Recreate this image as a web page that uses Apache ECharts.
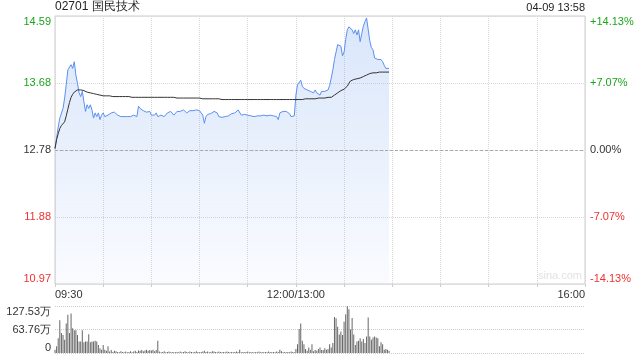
<!DOCTYPE html>
<html><head><meta charset="utf-8">
<script src="https://cdn.jsdelivr.net/npm/echarts@6/dist/echarts.min.js"></script>
<style>html,body{margin:0;padding:0;background:#fff}#c{width:640px;height:360px}</style>
</head><body><div id="c"></div>
<script>
const title = '02701 国民技术';
const stamp = '04-09 13:58';
const prevClose = 12.78;
const priceMin = 10.974, priceMax = 14.586, priceStep = 0.903;
const priceTicks = ['10.97','11.88','12.78','13.68','14.59'];
const pctTicks = ['-14.13%','-7.07%','0.00%','+7.07%','+14.13%'];
const tickColors = ['#f23030','#f23030','#333333','#1ca41c','#1ca41c'];
const timeTickPos = [0,150,330];
const timeTickText = ['09:30','12:00/13:00','16:00'];
const volMax = 127.53;
const volTicks = ['0','63.76万','127.53万'];

const price = [
12.80,12.94,13.09,13.21,13.23,13.34,13.48,13.66,13.86,13.84,
13.93,13.88,13.97,13.79,13.68,13.55,13.50,13.57,13.43,13.30,
13.39,13.34,13.39,13.32,13.21,13.28,13.23,13.28,13.19,13.25,
13.28,13.23,13.25,13.25,13.27,13.28,13.29,13.29,13.27,13.25,
13.24,13.23,13.23,13.23,13.23,13.23,13.23,13.23,13.24,13.25,
13.24,13.23,13.37,13.34,13.32,13.31,13.30,13.29,13.28,13.30,
13.25,13.23,13.25,13.28,13.23,13.24,13.25,13.24,13.23,13.25,
13.28,13.29,13.30,13.28,13.25,13.27,13.30,13.30,13.30,13.31,
13.32,13.30,13.28,13.30,13.31,13.31,13.31,13.32,13.32,13.31,
13.31,13.30,13.25,13.14,13.23,13.26,13.28,13.27,13.27,13.30,
13.30,13.28,13.23,13.21,13.22,13.23,13.23,13.22,13.24,13.26,
13.27,13.27,13.28,13.30,13.32,13.30,13.25,13.27,13.26,13.25,
13.25,13.24,13.24,13.23,13.23,13.24,13.24,13.23,13.24,13.25,
13.25,13.24,13.24,13.25,13.25,13.24,13.24,13.24,13.23,13.19,
13.28,13.30,13.30,13.30,13.30,13.29,13.27,13.23,13.22,13.24,
13.52,13.66,13.68,13.72,13.64,13.61,13.63,13.59,13.61,13.57,
13.59,13.55,13.59,13.55,13.57,13.52,13.57,13.55,13.57,13.55,
13.59,13.65,13.75,13.86,14.00,14.10,14.20,14.22,14.18,14.05,
14.10,14.27,14.40,14.44,14.46,14.40,14.35,14.40,14.33,14.40,
14.24,14.35,14.45,14.51,14.56,14.58,14.25,14.16,14.13,14.02,
14.02,14.00,14.02,14.00,13.97,13.92,13.88,13.87,13.88
];
const avgPrice = [
12.80,12.92,13.00,13.07,13.11,13.13,13.16,13.24,13.33,13.42,
13.49,13.53,13.56,13.58,13.59,13.59,13.59,13.58,13.58,13.57,
13.56,13.56,13.55,13.55,13.54,13.54,13.53,13.53,13.52,13.52,
13.51,13.51,13.51,13.51,13.51,13.50,13.50,13.50,13.50,13.50,
13.50,13.50,13.50,13.50,13.50,13.50,13.50,13.50,13.49,13.49,
13.49,13.49,13.49,13.49,13.49,13.49,13.49,13.49,13.49,13.49,
13.49,13.49,13.49,13.49,13.49,13.49,13.49,13.49,13.49,13.49,
13.49,13.49,13.49,13.49,13.49,13.49,13.48,13.48,13.48,13.48,
13.48,13.48,13.48,13.48,13.48,13.48,13.48,13.48,13.48,13.48,
13.48,13.47,13.47,13.47,13.47,13.47,13.47,13.47,13.47,13.47,
13.47,13.47,13.47,13.47,13.46,13.46,13.46,13.46,13.46,13.46,
13.46,13.46,13.46,13.46,13.46,13.46,13.46,13.46,13.46,13.46,
13.46,13.46,13.46,13.46,13.46,13.46,13.46,13.46,13.46,13.46,
13.46,13.46,13.46,13.46,13.46,13.46,13.46,13.46,13.46,13.46,
13.46,13.46,13.46,13.46,13.46,13.46,13.46,13.46,13.46,13.46,
13.46,13.46,13.46,13.46,13.46,13.46,13.47,13.47,13.47,13.47,
13.47,13.47,13.47,13.48,13.48,13.48,13.48,13.48,13.48,13.49,
13.49,13.49,13.49,13.50,13.52,13.54,13.55,13.57,13.58,13.59,
13.60,13.61,13.64,13.68,13.71,13.72,13.73,13.74,13.74,13.75,
13.75,13.76,13.77,13.78,13.79,13.80,13.81,13.81,13.82,13.82,
13.82,13.82,13.83,13.83,13.83,13.83,13.83,13.83,13.83
];
const volume = [
9,18,40,89,54,49,36,80,104,54,
107,67,62,62,49,31,31,62,29,31,
31,51,29,31,31,33,31,22,13,9,
22,9,6,18,4,8,3,6,5,3,
2,5,3,2,4,2,3,5,2,4,
6,3,7,6,8,5,7,9,6,8,
7,9,5,8,33,4,2,3,5,2,
3,4,2,3,2,2,3,2,4,2,
3,5,3,2,4,3,2,3,5,3,
2,3,4,6,3,4,2,3,5,4,
3,2,4,3,2,3,2,4,3,2,
3,2,3,4,3,9,2,3,2,3,
4,2,3,2,2,3,2,4,2,3,
2,3,2,4,3,2,3,2,4,3,
9,5,2,3,2,3,2,4,3,2,
11,24,65,80,33,24,11,6,15,9,
24,5,8,6,11,15,8,8,13,9,
11,24,15,27,98,94,71,50,58,49,
85,105,127,119,64,95,50,22,31,33,
40,31,38,27,45,96,45,36,42,45,
42,40,18,29,24,9,11,9,6
];

const chart = echarts.init(document.getElementById('c'), null, {renderer: 'canvas'});
const tickIndex = v => Math.round((v - priceMin) / priceStep);
const font = 'Liberation Sans, Arial, sans-serif';

chart.setOption({
  animation: false,
  textStyle: {fontFamily: font},
  grid: [
    {left: 55, right: 55, top: 16, height: 268, show: true, borderColor: '#cccccc', borderWidth: 1, backgroundColor: 'transparent'},
    {left: 55, right: 55, top: 306, height: 47}
  ],
  xAxis: [
    {type: 'value', gridIndex: 0, min: 0, max: 330, interval: 30,
     axisLine: {show: false},
     axisTick: {show: true, length: 3, lineStyle: {color: '#cccccc'}},
     axisLabel: {fontSize: 11, color: '#333', margin: 5, fontFamily: font,
       showMinLabel: true, showMaxLabel: true, alignMinLabel: 'left', alignMaxLabel: 'right',
       formatter: v => { const k = timeTickPos.indexOf(Math.round(v)); return k >= 0 ? timeTickText[k] : ''; }},
     splitLine: {show: true, lineStyle: {color: '#d8d8d8', type: 'dotted'}}},
    {type: 'value', gridIndex: 1, min: 0, max: 330, show: false}
  ],
  yAxis: [
    {type: 'value', gridIndex: 0, position: 'left', min: priceMin, max: priceMax, interval: priceStep,
     axisLine: {show: false}, axisTick: {show: false},
     axisLabel: {fontSize: 11, margin: 4, fontFamily: font,
       verticalAlignMinLabel: 'bottom', verticalAlignMaxLabel: 'top',
       formatter: v => priceTicks[tickIndex(v)],
       color: v => tickColors[tickIndex(v)]},
     splitLine: {show: true, lineStyle: {color: '#d8d8d8', type: 'dotted'}}},
    {type: 'value', gridIndex: 0, position: 'right', min: priceMin, max: priceMax, interval: priceStep,
     axisLine: {show: false}, axisTick: {show: false},
     axisLabel: {fontSize: 11, margin: 5, fontFamily: font,
       verticalAlignMinLabel: 'bottom', verticalAlignMaxLabel: 'top',
       formatter: v => pctTicks[tickIndex(v)],
       color: v => tickColors[tickIndex(v)]},
     splitLine: {show: false}},
    {type: 'value', gridIndex: 1, min: 0, max: volMax, interval: volMax / 2,
     axisLine: {show: false}, axisTick: {show: false},
     axisLabel: {fontSize: 11, margin: 4, color: '#333', fontFamily: font,
       verticalAlignMinLabel: 'bottom', verticalAlignMaxLabel: 'top',
       formatter: v => volTicks[Math.round(v / (volMax / 2))]},
     splitLine: {show: true, lineStyle: {color: '#cccccc', type: 'dotted'}}}
  ],
  graphic: [
    {type: 'text', left: 55, top: 1, style: {text: title, fontSize: 12, fill: '#222', fontFamily: font}},
    {type: 'text', right: 55, top: 2, style: {text: stamp, fontSize: 11, fill: '#222', fontFamily: font}},
    {type: 'text', right: 58, top: 270, style: {text: 'sina.com', fontSize: 11, fill: '#e2e2e2', fontFamily: font}}
  ],
  series: [
    {type: 'line', xAxisIndex: 0, yAxisIndex: 0, data: price.map((v, i) => [i, v]),
     showSymbol: false, symbol: 'none',
     lineStyle: {color: '#5b8ff0', width: 1},
     areaStyle: {origin: 'start', color: new echarts.graphic.LinearGradient(0, 0, 0, 1, [
       {offset: 0, color: 'rgba(120,165,240,0.40)'}, {offset: 1, color: 'rgba(120,165,240,0.06)'}])},
     markLine: {silent: true, symbol: 'none', label: {show: false},
       lineStyle: {color: '#aaaaaa', type: [3, 2], width: 1},
       data: [{yAxis: prevClose}]}},
    {type: 'line', xAxisIndex: 0, yAxisIndex: 0, data: avgPrice.map((v, i) => [i, v]),
     showSymbol: false, symbol: 'none', lineStyle: {color: '#333333', width: 1}},
    {type: 'bar', xAxisIndex: 1, yAxisIndex: 2, data: volume.map((v, i) => [i, v]),
     barWidth: 1, itemStyle: {color: '#666666'}}
  ]
});
</script>
</body></html>
